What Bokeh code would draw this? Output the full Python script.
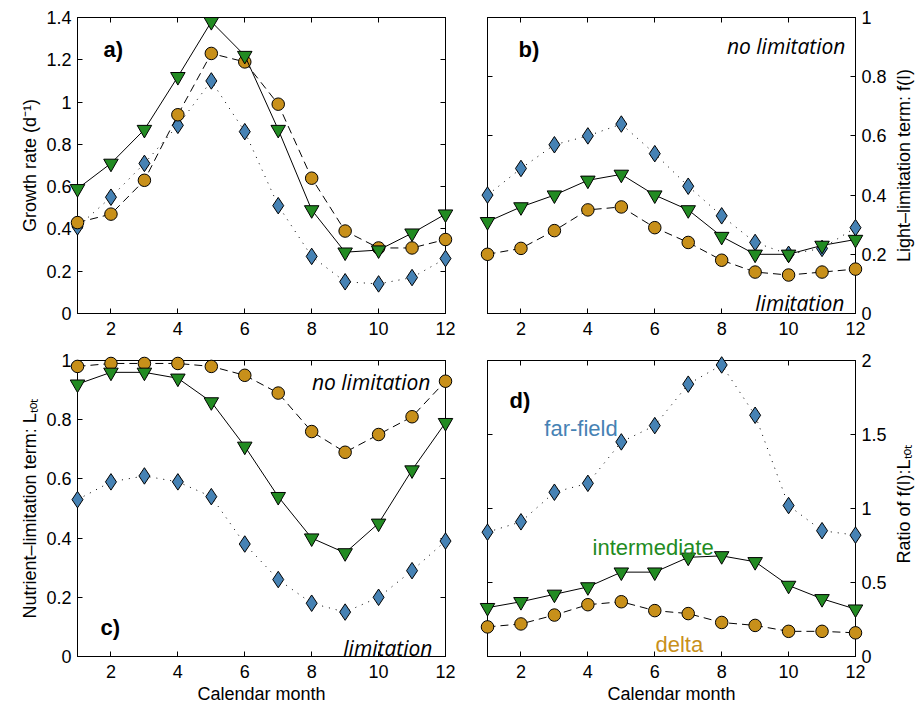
import math

from bokeh.plotting import figure
from bokeh.models import (Range1d, LinearAxis, FixedTicker, CustomJSTickFormatter,
                          CustomLabelingPolicy)
from bokeh.layouts import column, row
from bokeh.embed import file_html
from bokeh.resources import INLINE
from bokeh.core.properties import value

months = list(range(1, 13))
month_ticks = [2, 4, 6, 8, 10, 12]

# a) growth rate (d^-1)
growth_far = [0.41, 0.55, 0.71, 0.89, 1.10, 0.86, 0.51, 0.27, 0.15, 0.14, 0.17, 0.26]
growth_delta = [0.43, 0.47, 0.63, 0.94, 1.23, 1.19, 0.99, 0.64, 0.39, 0.31, 0.31, 0.35]
growth_inter = [0.59, 0.71, 0.87, 1.12, 1.38, 1.22, 0.87, 0.49, 0.29, 0.30, 0.38, 0.47]

# b) light-limitation term f(I)
light_far = [0.40, 0.49, 0.57, 0.60, 0.64, 0.54, 0.43, 0.33, 0.24, 0.20, 0.22, 0.29]
light_inter = [0.31, 0.36, 0.40, 0.45, 0.47, 0.40, 0.35, 0.26, 0.20, 0.20, 0.23, 0.25]
light_delta = [0.20, 0.22, 0.28, 0.35, 0.36, 0.29, 0.24, 0.18, 0.14, 0.13, 0.14, 0.15]

# c) nutrient-limitation term L_tot
nutr_delta = [0.98, 0.99, 0.99, 0.99, 0.98, 0.95, 0.89, 0.76, 0.69, 0.75, 0.81, 0.93]
nutr_inter = [0.92, 0.96, 0.96, 0.94, 0.86, 0.71, 0.54, 0.40, 0.35, 0.45, 0.63, 0.79]
nutr_far = [0.53, 0.59, 0.61, 0.59, 0.54, 0.38, 0.26, 0.18, 0.15, 0.20, 0.29, 0.39]

# d) ratio f(I):L_tot
ratio_far = [0.84, 0.91, 1.11, 1.17, 1.45, 1.56, 1.84, 1.97, 1.63, 1.02, 0.85, 0.82]
ratio_inter = [0.33, 0.37, 0.42, 0.47, 0.57, 0.57, 0.67, 0.68, 0.64, 0.48, 0.39, 0.32]
ratio_delta = [0.20, 0.22, 0.28, 0.35, 0.37, 0.31, 0.29, 0.23, 0.21, 0.17, 0.17, 0.16]

ticks_a = [0, 0.2, 0.4, 0.6, 0.8, 1.0, 1.2, 1.4]
ticks_b = [0, 0.2, 0.4, 0.6, 0.8, 1.0]
ticks_c = [0, 0.2, 0.4, 0.6, 0.8, 1.0]
ticks_d = [0, 0.5, 1.0, 1.5, 2.0]

BLUE = "#4682B4"
GREEN = "#228B22"
GOLD = "#C8901A"
FONT = "Liberation Sans"
ITALIC_FONT = "Open Sans"

# mirrored axes carry ticks only, no labels
NO_LABELS = CustomLabelingPolicy(code="""
try { for (let i = 0; i < indices.size; i++) { indices.unset(i) } } catch (e) {}
return indices
""")


def make_axis(ticks, labelled, label=None, standoff=6):
    ax = LinearAxis(
        ticker=FixedTicker(ticks=ticks, minor_ticks=[]),
        formatter=CustomJSTickFormatter(code="return String(Math.round(tick * 100) / 100);"),
        axis_line_color="black", axis_line_width=1,
        major_tick_line_color="black", major_tick_line_width=1,
        major_tick_in=5, major_tick_out=0,
        minor_tick_in=0, minor_tick_out=0,
        major_label_text_font=FONT, major_label_text_color="black",
    )
    if labelled:
        ax.major_label_text_font_size = "18px"
        ax.major_label_standoff = standoff
        if label:
            ax.axis_label = label
            ax.axis_label_text_font = FONT
            ax.axis_label_text_font_size = "18px"
            ax.axis_label_text_font_style = "normal"
            ax.axis_label_text_color = "black"
            ax.axis_label_standoff = 3
    else:
        ax.major_label_text_font_size = "0px"
        ax.major_label_standoff = 0
        ax.major_label_policy = NO_LABELS
    return ax


def make_panel(ytop, yticks, yside, ylabel, xlabel, borders):
    left, right, top, bottom = borders
    p = figure(
        frame_width=368, frame_height=296,
        x_range=Range1d(1, 12), y_range=Range1d(0, ytop),
        min_border_left=left, min_border_right=right,
        min_border_top=top, min_border_bottom=bottom,
        x_axis_location=None, y_axis_location=None,
        toolbar_location=None, output_backend="svg",
    )
    p.grid.visible = False
    p.outline_line_color = "black"
    p.outline_line_width = 1
    p.background_fill_color = "white"
    p.border_fill_color = "white"

    p.add_layout(make_axis(month_ticks, True, xlabel, standoff=8), "below")
    p.add_layout(make_axis(month_ticks, False), "above")
    if yside == "left":
        p.add_layout(make_axis(yticks, True, ylabel), "left")
        p.add_layout(make_axis(yticks, False), "right")
    else:
        p.add_layout(make_axis(yticks, True, None), "right")
        p.add_layout(make_axis(yticks, False), "left")
    return p


def add_series(p, far, delta, inter):
    p.line(months, far, line_color="black", line_width=1, line_dash="1 6", level="overlay")
    p.scatter(months, far, marker="diamond", size=16.5, fill_color=BLUE,
              line_color="black", line_width=1, level="overlay")
    p.line(months, delta, line_color="black", line_width=1, line_dash="8 5", level="overlay")
    p.scatter(months, delta, marker="circle", size=12.5, fill_color=GOLD,
              line_color="black", line_width=1, level="overlay")
    p.line(months, inter, line_color="black", line_width=1, level="overlay")
    p.scatter(months, inter, marker="inverted_triangle", size=14.5, fill_color=GREEN,
              line_color="black", line_width=1, level="overlay")


def add_text(p, x, y, txt, font=FONT, size="21px", style="normal", color="black",
             align="left", baseline="alphabetic", angle=0.0):
    p.text(x=[x], y=[y], text=[txt], text_font=value(font), text_font_size=size,
           text_font_style=style, text_color=color, text_align=align,
           text_baseline=baseline, angle=angle, level="overlay")


pa = make_panel(1.4, ticks_a, "left", "Growth rate (d\u207b\u00b9)", None, (77, 21, 17, 27))
add_series(pa, growth_far, growth_delta, growth_inter)
add_text(pa, 1.78, 1.249, "a)", size="22px", style="bold")

pb = make_panel(1.0, ticks_b, "right", None, None, (21, 61, 17, 27))
add_series(pb, light_far, light_delta, light_inter)
add_text(pb, 1.93, 0.892, "b)", size="22px", style="bold")
add_text(pb, 11.70, 0.905, "no limitation", font=ITALIC_FONT, style="italic", align="right")
add_text(pb, 11.67, 0.034, "limitation", font=ITALIC_FONT, style="italic", align="right")
# right-hand axis title, reading bottom to top
add_text(pb, 13.44, 0.5, "Light\u2013limitation term: f(I)", size="18px", align="center",
         angle=math.pi / 2)

pc = make_panel(1.0, ticks_c, "left", "Nutrient\u2013limitation term: L\u209c\u2092\u209c", "Calendar month",
                (77, 21, 20, 48))
add_series(pc, nutr_far, nutr_delta, nutr_inter)
add_text(pc, 1.69, 0.098, "c)", size="22px", style="bold")
add_text(pc, 11.55, 0.926, "no limitation", font=ITALIC_FONT, style="italic", align="right")
add_text(pc, 11.61, 0.030, "limitation", font=ITALIC_FONT, style="italic", align="right")

pd = make_panel(2.0, ticks_d, "right", None, "Calendar month", (21, 61, 20, 48))
add_series(pd, ratio_far, ratio_delta, ratio_inter)
add_text(pd, 1.66, 1.73, "d)", size="22px", style="bold")
add_text(pd, 2.70, 1.54, "far-field", size="22px", color=BLUE)
add_text(pd, 4.14, 0.736, "intermediate", size="22px", color=GREEN)
add_text(pd, 6.02, 0.08, "delta", size="22px", color=GOLD)
add_text(pd, 13.44, 1.03, "Ratio of f(I):L\u209c\u2092\u209c", size="18px", align="center",
         angle=math.pi / 2)

layout = column(row(pa, pb, spacing=0), row(pc, pd, spacing=0), spacing=0)

with open("out.html", "w") as f:
    f.write(file_html(layout, INLINE))
